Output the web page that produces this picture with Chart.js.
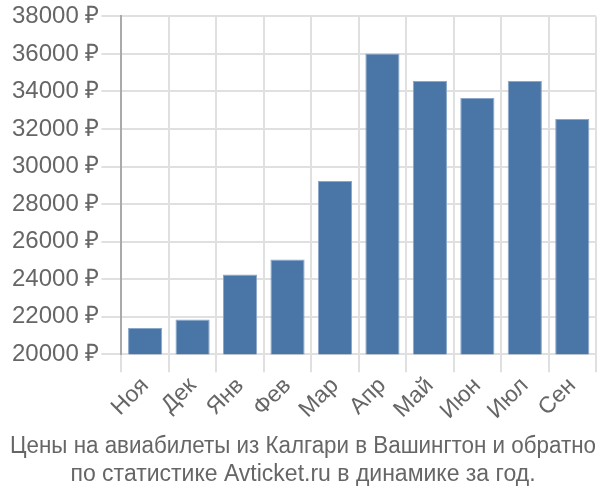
<!DOCTYPE html>
<html>
<head>
<meta charset="utf-8">
<script src="https://cdn.jsdelivr.net/npm/chart.js@4"></script>
<style>
  body { margin: 0; background: #fff; }
  #wrap { width: 600px; height: 500px; }
</style>
</head>
<body>
<div id="wrap"><canvas id="priceChart"></canvas></div>
<script>
// Months and average prices
const months = ["Ноя", "Дек", "Янв", "Фев", "Мар", "Апр", "Май", "Июн", "Июл", "Сен"];
const prices = [21400, 21850, 24250, 25050, 29230, 36020, 34560, 33650, 34560, 32530];
const titleLines = [
    "Цены на авиабилеты из Калгари в Вашингтон и обратно",
    "по статистике Avticket.ru в динамике за год."
];

Chart.defaults.font.family = "'Liberation Sans', Arial, sans-serif";
Chart.defaults.color = '#666';

const priceChart = new Chart("priceChart", {
    type: "bar",
    data: {
        labels: months,
        datasets: [
            {
                label: "Цена",
                backgroundColor: "#4a76a7",
                borderColor: "#8aa6c8",
                borderWidth: 1,
                barPercentage: 0.72,
                categoryPercentage: 1,
                data: prices
            }
        ]
    },
    options: {
        responsive: true,
        maintainAspectRatio: false,
        animation: false,
        layout: {
            padding: { top: 2, right: 4, left: 10, bottom: 0 }
        },
        plugins: {
            legend: { display: false },
            tooltip: { enabled: false },
            title: {
                display: true,
                position: 'bottom',
                text: titleLines,
                color: '#666',
                font: { size: 23, weight: 'normal', lineHeight: 1.2 },
                padding: { top: 8, bottom: 12 }
            }
        },
        scales: {
            x: {
                grid: {
                    color: '#e0e0e0',
                    lineWidth: 2,
                    tickLength: 18,
                    offset: true
                },
                border: { color: '#e0e0e0', width: 2 },
                ticks: {
                    font: { size: 23 },
                    color: '#666',
                    maxRotation: 45,
                    minRotation: 45,
                    padding: 0
                }
            },
            y: {
                min: 20000,
                max: 38000,
                grid: {
                    color: '#e0e0e0',
                    lineWidth: 2,
                    tickLength: 20
                },
                border: { color: '#aaa', width: 2 },
                ticks: {
                    stepSize: 2000,
                    font: { size: 24 },
                    color: '#666',
                    padding: 2,
                    callback: (v) => v + " ₽"
                }
            }
        }
    }
});
</script>
</body>
</html>
